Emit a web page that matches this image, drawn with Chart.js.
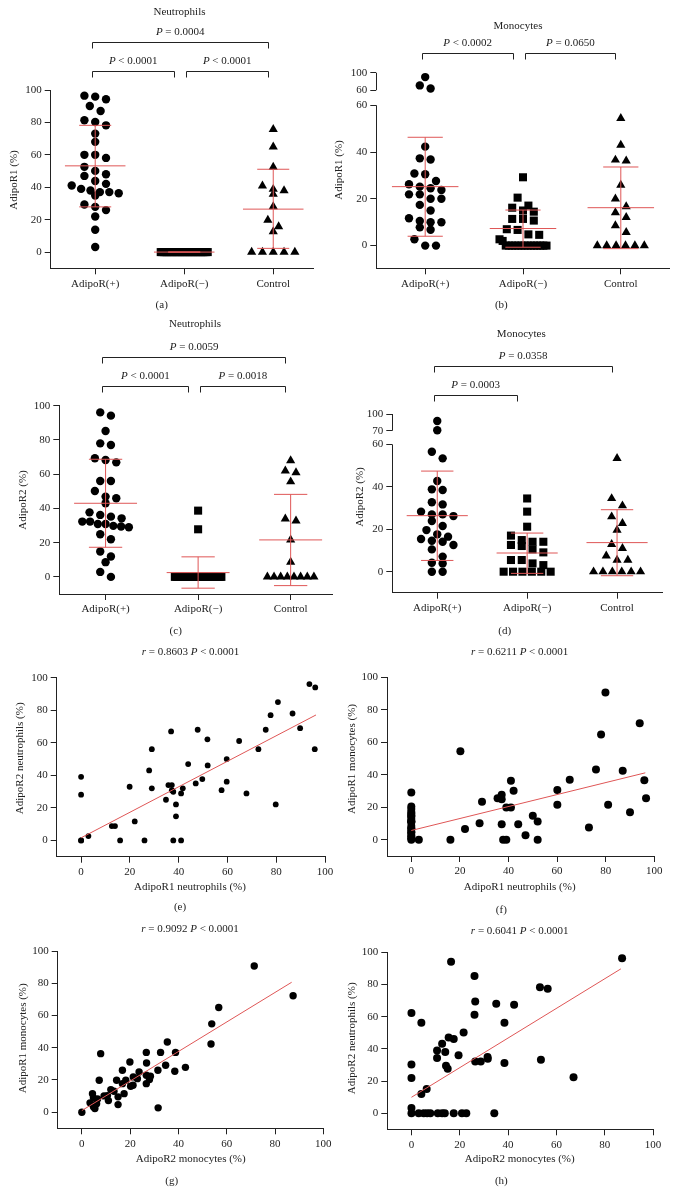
<!DOCTYPE html>
<html>
<head>
<meta charset="utf-8">
<script src="https://cdn.jsdelivr.net/npm/chart.js@4.4.0/dist/chart.umd.min.js"></script>
<style>
  body { margin: 0; background: #fff; }
  #fig { position: relative; width: 676px; height: 1193px; overflow: hidden; }
  canvas { position: absolute; }
</style>
</head>
<body>
<div id="fig">
  <canvas id="pa"></canvas><canvas id="pb"></canvas>
  <canvas id="pc"></canvas><canvas id="pd"></canvas>
  <canvas id="pe"></canvas><canvas id="pf"></canvas>
  <canvas id="pg"></canvas><canvas id="ph"></canvas>
</div>
<script>
"use strict";

const groups = ["AdipoR(+)", "AdipoR(\u2212)", "Control"];
const pctTicks = [0, 20, 40, 60, 80, 100];
const mainTicks = [0, 20, 40, 60];
const upperB = [60, 100];
const upperD = [70, 100];

// (a) AdipoR1 on neutrophils
const aPos = [96.5, 95.9, 94.3, 90.1, 87, 81.3, 80.3, 78.2, 73.1, 68, 60, 60, 58.1, 52.6, 50.1, 48, 47, 43.9, 42.1, 41.1, 39, 38, 37, 37, 36.3, 34.9, 29.4, 27.9, 25.9, 22, 13.8, 3.1];
const aNeg = [0, 0, 0, 0, 0, 0, 0, 0, 0, 0, 0, 0, 0, 0, 0, 0, 0, 0, 0, 0, 0, 0, 0, 0, 0, 0, 0, 0, 0, 0];
const aCtl = [75.8, 64.9, 52.4, 40.9, 38.8, 38, 35.7, 28.1, 19.7, 15.8, 12.7, 0, 0, 0, 0, 0];
const aMean = [53.2, 0, 26.5];
const aHi = [78.2, 0, 51.1];
const aLo = [27.9, 0, 2.3];

// (b) AdipoR1 on monocytes
const bPos = [90, 71, 64, 42.3, 37.3, 36.8, 30.8, 30.5, 27.6, 26.2, 25.2, 24.5, 23.8, 21.9, 21.9, 20, 20, 17.4, 15, 11.7, 10.5, 10, 10, 7.8, 6.8, 2.7, 0, 0];
const bNeg = [29.2, 20.5, 17.1, 16.2, 15, 14.5, 11.4, 11.4, 10.7, 7, 6.7, 4.8, 4.6, 2.7, 2, 0, 0, 0, 0, 0, 0, 0, 0, 0, 0, 0, 0, 0, 0];
const bCtl = [54.4, 43, 36.6, 36.2, 25.9, 20, 16.7, 14.1, 12.1, 8.6, 5.7, 0, 0, 0, 0, 0, 0];
const bMean = [25.2, 7.3, 16.2];
const bHi = [46.3, 15.2, 33.6];
const bLo = [4, -0.7, -1.3];

// (c) AdipoR2 on neutrophils
const cPos = [96.1, 94.2, 85.2, 78, 77, 69.3, 68.3, 66.9, 56, 56, 50.2, 46.9, 45.9, 43, 37.7, 36.2, 35.2, 34.2, 32.3, 32.3, 30.9, 30.9, 29.8, 29.4, 29, 24.9, 22, 14.8, 11.9, 8.6, 2.9, 0];
const cNeg = [38.7, 27.8, 0, 0, 0, 0, 0, 0, 0, 0, 0, 0, 0, 0, 0, 0, 0, 0, 0, 0, 0, 0, 0, 0, 0, 0, 0, 0, 0, 0];
const cCtl = [67.9, 61.9, 60.9, 55.6, 33.9, 32.7, 21.6, 8.6, 0, 0, 0, 0, 0, 0, 0, 0];
const cMean = [43, 2.5, 21.6];
const cHi = [68.7, 11.7, 48.2];
const cLo = [17.3, -6.6, -5.1];

// (d) AdipoR2 on monocytes
const dPos = [87.5, 71, 56.5, 53.4, 42.7, 38.8, 38.5, 32.7, 31.7, 28.3, 27, 27, 26.2, 23.9, 21.5, 19.6, 17.6, 16.5, 15.4, 14.6, 14.1, 12.6, 10.5, 7.1, 4.2, 3.9, 0, 0];
const dNeg = [34.5, 28.3, 21.2, 17, 14.9, 14.1, 14.1, 12.6, 12.1, 10.5, 9.1, 5.5, 5.5, 3.9, 3.1, 0, 0, 0, 0, 0, 0];
const dCtl = [53.4, 34.5, 31.1, 25.9, 22.8, 19.6, 12.9, 11, 7.5, 5.5, 5.5, 0, 0, 0, 0, 0, 0];
const dMean = [26.4, 8.8, 13.7];
const dHi = [47.4, 18.2, 29.2];
const dLo = [5.3, -0.8, -1.9];

// (e) AdipoR1 vs AdipoR2, neutrophils
const eX = [93.6, 96, 80.7, 77.7, 86.7, 75.7, 89.8, 72.7, 95.8, 64.8, 59.7, 59.7, 57.6, 67.8, 79.8, 51.8, 47.8, 51.9, 49.7, 47, 43.9, 36.9, 29, 27.9, 29, 19.9, 35.8, 37.2, 37.2, 37.8, 41.7, 41, 34.8, 38.9, 38.9, 22, 12.6, 13.9, 3, 0, 0, 0, 0, 16, 26, 37.8, 41];
const eY = [96.1, 94, 85, 77, 78, 68, 69, 56.1, 56.1, 61.1, 50, 36.1, 30.9, 28.9, 22.1, 62.1, 68, 46.1, 37.7, 35, 46.9, 67, 56.1, 43, 32, 33, 34, 34, 30.9, 29.9, 32, 28.9, 25, 22.1, 14.8, 11.7, 8.8, 8.8, 2.7, 39.1, 28.1, 0, 0, 0, 0, 0, 0];
const fitEx = [0, 96.3];
const fitEy = [1.6, 77.1];

// (f) AdipoR1 neutrophils vs AdipoR1 monocytes
const fX = [79.9, 94, 78.1, 20.2, 76, 87, 65.2, 95.9, 96.6, 60.1, 60.1, 81, 90, 73.1, 41, 42.1, 35.5, 37.2, 37.2, 39.1, 41, 29.1, 28.1, 22.1, 16.1, 37.2, 44, 50, 52, 47, 37.8, 39.1, 52, 3.1, 0, 0, 0, 0, 0, 0, 0, 0, 0, 0, 0, 0, 0, 0, 0, 0, 0, 0, 0, 0];
const fY = [90.6, 71.7, 64.8, 54.5, 43.2, 42.4, 36.9, 36.7, 25.6, 30.7, 21.5, 21.5, 17, 7.6, 36.3, 30.1, 25.6, 27.7, 25, 19.9, 19.9, 23.4, 10.2, 6.6, 0, 9.6, 9.6, 14.8, 11.3, 2.7, 0, 0, 0, 0, 29.1, 20.5, 19, 17.1, 16.2, 15, 14.5, 13, 11.4, 11.4, 10.7, 8.5, 7, 6.7, 4.8, 4.6, 3, 2, 1, 0];
const fitFx = [0, 96.3];
const fitFy = [5.7, 41.2];

// (g) AdipoR2 monocytes vs AdipoR1 monocytes
const gX = [71.4, 87.5, 56.7, 53.8, 53.5, 35.4, 32.6, 26.7, 38.8, 7.8, 19.9, 26.8, 16.8, 31.5, 34.7, 38.5, 42.9, 23.7, 28.4, 28, 23, 21.3, 26.7, 26.7, 18.2, 14.4, 7.2, 16.8, 21.2, 20.2, 17.5, 15, 15, 12, 13.3, 9.2, 10.6, 11, 4.4, 4.8, 6.5, 3.4, 6.1, 4.8, 5.4, 31.6, 0];
const gY = [90.7, 72.2, 64.9, 54.8, 42.3, 43.5, 37.1, 37.1, 37.1, 36.3, 31.1, 30.5, 26, 26, 29.1, 25.4, 27.8, 24.9, 22.3, 20.2, 20.8, 21.9, 17.7, 22.9, 19.8, 19.8, 19.8, 17.7, 16.7, 16.1, 11.5, 9.5, 4.7, 14, 13, 10.1, 10.3, 7.2, 11.5, 8.9, 8.2, 5.8, 5.2, 3.3, 2.3, 2.7, 0];
const fitGx = [0, 86.9];
const fitGy = [1, 80.6];

// (h) AdipoR2 monocytes vs AdipoR2 neutrophils
const hX = [87.2, 16.4, 26.1, 53.2, 56.4, 26.4, 35.1, 42.5, 26.1, 0, 4.1, 38.5, 21.6, 15.4, 17.5, 12.7, 10.6, 14, 19.5, 10.6, 14.3, 15, 31.5, 26.4, 28.7, 31.6, 38.5, 53.6, 67.1, 0, 0, 6.3, 4.1, 0, 0, 3, 5.1, 6.5, 7.8, 10.9, 12.7, 13.8, 17.5, 20.9, 22.7, 34.3];
const hY = [96.3, 94.2, 85.3, 78.3, 77.3, 69.4, 68, 67.4, 61.2, 62.2, 56.2, 56.2, 50.2, 47.1, 46.1, 43.2, 39, 38, 36, 34.3, 29.5, 27.7, 34.9, 32.2, 32.2, 33.9, 31.2, 33.3, 22.3, 30.2, 21.9, 15.1, 12, 3.3, 0, 0, 0, 0, 0, 0, 0, 0, 0, 0, 0, 0];
const fitHx = [0, 86.7];
const fitHy = [9.9, 89.7];

const ink = "#222";
const red = "#df5656";
const serif = "'Liberation Serif', 'DejaVu Serif', serif";
Chart.defaults.font.family = serif;
Chart.defaults.font.size = 11;
Chart.defaults.color = ink;

const cfg = {};

function brkT(v, b) {
  return !b || v <= b.cut ? v : b.cut + b.gap + (v - b.base) * b.k;
}

// put near-equal values side by side in centred rows, as a dot plot does
function swarm(vals, tol, step, half) {
  const idx = vals.map((v, i) => i).sort((a, b) => vals[b] - vals[a]);
  const off = vals.map(() => 0);
  let i = 0;
  while (i < idx.length) {
    const row = [idx[i]];
    let j = i + 1;
    while (j < idx.length && vals[idx[i]] - vals[idx[j]] < tol) row.push(idx[j++]);
    const n = row.length;
    const s = n > 1 ? Math.min(step, (2 * half) / (n - 1)) : 0;
    row.forEach((k, m) => { off[k] = (m - (n - 1) / 2) * s; });
    i = j;
  }
  return off;
}

function rich(ctx, str, x, y) {
  const words = str.split(" ");
  const parts = words.map((w, i) => ({ t: w + (i < words.length - 1 ? " " : ""), it: w === "P" || w === "r" }));
  let total = 0;
  parts.forEach(p => {
    ctx.font = (p.it ? "italic " : "") + "11px " + serif;
    p.w = ctx.measureText(p.t).width;
    total += p.w;
  });
  let cx = x - total / 2;
  ctx.textAlign = "left";
  ctx.textBaseline = "middle";
  parts.forEach(p => {
    ctx.font = (p.it ? "italic " : "") + "11px " + serif;
    ctx.fillText(p.t, cx, y);
    cx += p.w;
  });
}

const al = v => Math.round(v - 0.5) + 0.5;

const deco = {
  id: "deco",
  afterDatasetsDraw(chart) {
    const o = cfg[chart.canvas.id];
    const ctx = chart.ctx, xs = chart.scales.x, ys = chart.scales.y, ca = chart.chartArea;
    const ox = o.box[0], oy = o.box[1];
    ctx.save();
    ctx.lineWidth = 1;

    // mean and SD bars
    if (o.mean) {
      ctx.strokeStyle = red;
      o.mean.forEach((m, g) => {
        const yp = v => ys.getPixelForValue(brkT(v, o.brk));
        const xp = v => xs.getPixelForValue(v);
        ctx.beginPath();
        ctx.moveTo(xp(g - 0.34), yp(m)); ctx.lineTo(xp(g + 0.34), yp(m));
        ctx.moveTo(xp(g), yp(o.lo[g])); ctx.lineTo(xp(g), yp(o.hi[g]));
        ctx.moveTo(xp(g - 0.18), yp(o.lo[g])); ctx.lineTo(xp(g + 0.18), yp(o.lo[g]));
        ctx.moveTo(xp(g - 0.18), yp(o.hi[g])); ctx.lineTo(xp(g + 0.18), yp(o.hi[g]));
        ctx.stroke();
      });
    }

    ctx.strokeStyle = ink;
    ctx.fillStyle = ink;

    // broken y axis
    if (o.brk) {
      const x = al(ca.left);
      ctx.beginPath();
      ctx.moveTo(x, ca.bottom); ctx.lineTo(x, ys.getPixelForValue(o.brk.cut));
      ctx.moveTo(x, ys.getPixelForValue(brkT(o.brk.base + 1e-9, o.brk))); ctx.lineTo(x, ca.top);
      ctx.stroke();
    }

    // comparison brackets
    (o.brackets || []).forEach(([a, b, lvl, txt]) => {
      const y = al(ca.top - (lvl ? 48 : 19));
      const x1 = xs.getPixelForValue(a) + (a ? 2 : -3);
      const x2 = xs.getPixelForValue(b) - (b === 1 ? 10 : 5);
      ctx.beginPath();
      ctx.moveTo(al(x1), y + 6); ctx.lineTo(al(x1), y); ctx.lineTo(al(x2), y); ctx.lineTo(al(x2), y + 6);
      ctx.stroke();
      rich(ctx, txt, (x1 + x2) / 2, y - 10.5);
    });

    rich(ctx, o.title[0], o.title[1] - ox, o.title[2] - oy);
    rich(ctx, o.tag[0], o.tag[1] - ox, o.tag[2] - oy);
    if (o.xTitle) rich(ctx, o.xTitle[0], o.xTitle[1] - ox, o.xTitle[2] - oy);
    ctx.translate(o.yTitle[1] - ox, o.yTitle[2] - oy);
    ctx.rotate(-Math.PI / 2);
    rich(ctx, o.yTitle[0], 0, 0);
    ctx.restore();
  }
};

function axis(range, ticks, labels, size, dim, noBorder) {
  return {
    type: "linear",
    min: range[0],
    max: range[1],
    grid: { display: true, drawOnChartArea: false, drawTicks: true, tickLength: 6, color: ink, lineWidth: 1 },
    border: { display: !noBorder, color: ink, width: 1 },
    ticks: { autoSkip: false, maxRotation: 0, padding: 3, color: ink, font: { size: 11 }, callback: (v, i) => labels[i] },
    afterBuildTicks: ax => { ax.ticks = ticks.map(v => ({ value: v })); },
    afterFit: ax => { if (dim === "w") ax.width = size; else ax.height = size; }
  };
}

function build(id, o, datasets, xT, xL, yT, yL) {
  cfg[id] = o;
  const cv = document.getElementById(id);
  const [cx, cy, cw, ch] = o.box;
  const [L, T, R, B] = o.area;
  cv.width = cw;
  cv.height = ch;
  cv.style.left = cx + "px";
  cv.style.top = cy + "px";
  new Chart(cv, {
    type: "scatter",
    data: { datasets },
    options: {
      responsive: false,
      animation: false,
      events: [],
      layout: { padding: { left: 0, top: T - cy, right: cx + cw - R, bottom: 0 } },
      plugins: { legend: { display: false }, tooltip: { enabled: false } },
      scales: {
        x: axis(o.xr, xT, xL, cy + ch - B, "h", false),
        y: axis(o.yr, yT, yL, L - cx, "w", !!o.brk)
      }
    },
    plugins: [deco]
  });
}

function dotPanel(id, o, sets, upper) {
  const [L, T, R, B] = o.area;
  const sx = (R - L) / (o.xr[1] - o.xr[0]);
  const sy = (B - T) / (o.yr[1] - o.yr[0]);
  const marks = [["circle", 4.2], ["rect", 5.7], ["triangle", 5.3]];
  const datasets = sets.map((vals, g) => {
    const t = vals.map(v => brkT(v, o.brk));
    const off = swarm(t, 8 / sy, 10.8 / sx, 23.5 / sx);
    return {
      data: t.map((y, i) => ({ x: g + off[i], y })),
      pointStyle: marks[g][0],
      pointRadius: marks[g][1],
      pointHoverRadius: marks[g][1],
      pointBorderWidth: 0,
      pointBackgroundColor: "#000",
      clip: false
    };
  });
  let yT = pctTicks, yL = pctTicks.map(String);
  if (o.brk) {
    yT = mainTicks.concat(upper.map(v => o.brk.cut + o.brk.gap + (v - o.brk.base) * o.brk.k));
    yL = mainTicks.concat(upper).map(String);
  }
  build(id, o, datasets, [0, 1, 2], groups, yT, yL);
}

function scatterPanel(id, o, xv, yv, fx, fy, r) {
  const datasets = [
    {
      data: fx.map((x, i) => ({ x, y: fy[i] })),
      showLine: true,
      borderColor: red,
      borderWidth: 1,
      pointRadius: 0,
      clip: false
    },
    {
      data: xv.map((x, i) => ({ x, y: yv[i] })),
      pointStyle: "circle",
      pointRadius: r,
      pointHoverRadius: r,
      pointBorderWidth: 0,
      pointBackgroundColor: "#000",
      clip: false
    }
  ];
  build(id, o, datasets, pctTicks, pctTicks.map(String), pctTicks, pctTicks.map(String));
}

dotPanel("pa", {
  box: [0, 0, 338, 315], area: [50.7, 90, 313.3, 268.3], xr: [-0.5, 2.45], yr: [-10, 100],
  mean: aMean, hi: aHi, lo: aLo,
  title: ["Neutrophils", 179.5, 11.7],
  brackets: [[0, 2, 1, "P = 0.0004"], [0, 1, 0, "P < 0.0001"], [1, 2, 0, "P < 0.0001"]],
  yTitle: ["AdipoR1 (%)", 14, 180], tag: ["(a)", 161.7, 305]
}, [aPos, aNeg, aCtl]);

dotPanel("pb", {
  box: [330, 0, 346, 315], area: [376.3, 72.7, 669.7, 268.3], xr: [-0.5, 2.5], yr: [-9.7, 73.9],
  brk: { cut: 60, base: 60, gap: 6.4, k: 0.1875 },
  mean: bMean, hi: bHi, lo: bLo,
  title: ["Monocytes", 518, 26],
  brackets: [[0, 1, 0, "P < 0.0002"], [1, 2, 0, "P = 0.0650"]],
  yTitle: ["AdipoR1 (%)", 339, 170], tag: ["(b)", 501.3, 305]
}, [bPos, bNeg, bCtl], upperB);

dotPanel("pc", {
  box: [0, 312, 338, 328], area: [59.3, 405.7, 335, 594], xr: [-0.5, 2.45], yr: [-10, 100],
  mean: cMean, hi: cHi, lo: cLo,
  title: ["Neutrophils", 195, 324.3],
  brackets: [[0, 2, 1, "P = 0.0059"], [0, 1, 0, "P < 0.0001"], [1, 2, 0, "P = 0.0018"]],
  yTitle: ["AdipoR2 (%)", 22.7, 500], tag: ["(c)", 175.7, 631]
}, [cPos, cNeg, cCtl]);

dotPanel("pd", {
  box: [330, 312, 346, 328], area: [392.3, 414, 662, 592.7], xr: [-0.5, 2.5], yr: [-9.9, 74.3],
  brk: { cut: 60, base: 70, gap: 6.4, k: 0.262 },
  mean: dMean, hi: dHi, lo: dLo,
  title: ["Monocytes", 521.3, 334.3],
  brackets: [[0, 2, 1, "P = 0.0358"], [0, 1, 0, "P = 0.0003"]],
  yTitle: ["AdipoR2 (%)", 359.7, 497], tag: ["(d)", 504.7, 631]
}, [dPos, dNeg, dCtl], upperD);

scatterPanel("pe", {
  box: [0, 638, 338, 280], area: [56.7, 677.7, 325, 856.7], xr: [-10, 100], yr: [-10, 100],
  title: ["r = 0.8603 P < 0.0001", 190.5, 651.7],
  yTitle: ["AdipoR2 neutrophils (%)", 20, 758.3],
  xTitle: ["AdipoR1 neutrophils (%)", 190, 887.3], tag: ["(e)", 180, 906.7]
}, eX, eY, fitEx, fitEy, 2.9);

scatterPanel("pf", {
  box: [330, 638, 346, 280], area: [387, 677.3, 654.3, 856], xr: [-10, 100], yr: [-10, 100],
  title: ["r = 0.6211 P < 0.0001", 519.7, 651.7],
  yTitle: ["AdipoR1 monocytes (%)", 352, 759],
  xTitle: ["AdipoR1 neutrophils (%)", 519.7, 887.3], tag: ["(f)", 501.3, 910]
}, fX, fY, fitFx, fitFy, 4);

scatterPanel("pg", {
  box: [0, 916, 338, 277], area: [57.7, 951, 323.3, 1128.3], xr: [-10, 100], yr: [-10, 100],
  title: ["r = 0.9092 P < 0.0001", 190, 929.3],
  yTitle: ["AdipoR1 monocytes (%)", 22.7, 1038.3],
  xTitle: ["AdipoR2 monocytes (%)", 190.7, 1159.3], tag: ["(g)", 171.7, 1181]
}, gX, gY, fitGx, fitGy, 3.7);

scatterPanel("ph", {
  box: [330, 916, 346, 277], area: [387.3, 952.3, 653, 1129.3], xr: [-10, 100], yr: [-10, 100],
  title: ["r = 0.6041 P < 0.0001", 519.7, 931],
  yTitle: ["AdipoR2 neutrophils (%)", 352, 1038.3],
  xTitle: ["AdipoR2 monocytes (%)", 519.7, 1159.3], tag: ["(h)", 501.3, 1180.7]
}, hX, hY, fitHx, fitHy, 4);
</script>
</body>
</html>
